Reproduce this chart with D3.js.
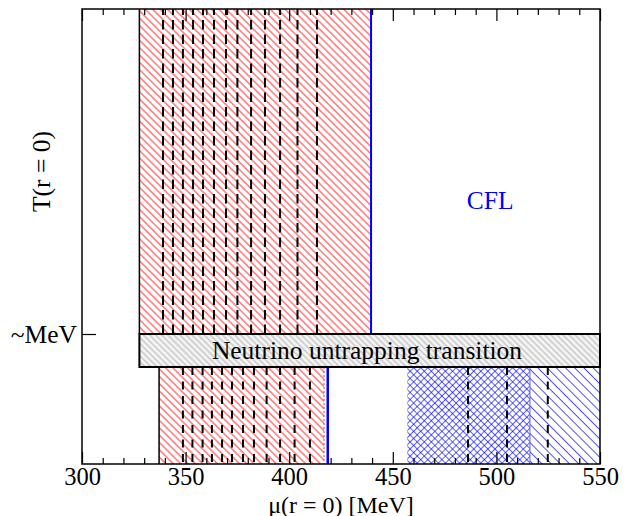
<!DOCTYPE html>
<html>
<head>
<meta charset="utf-8">
<script src="https://cdn.jsdelivr.net/npm/d3@7"></script>
<style>
  html, body { margin: 0; padding: 0; background: #fff; }
  text { font-family: "Liberation Serif", "Times New Roman", serif; }
</style>
</head>
<body>
<svg id="chart" width="633" height="516"></svg>
<script>
// ---- data (chemical potential in MeV) ----
const xTicks = [300, 350, 400, 450, 500, 550];
const xMinorTicks = d3.range(300, 551, 10).filter(v => v % 50 !== 0);
const yTickLabels = ["~MeV"];

// hot region (T above ~MeV): red hatched range and its blue boundary
const hotRange = [327.7, 439.5];
const hotDashes = [339.1, 343.9, 348.7, 353.6, 358.4, 363.7, 369.5, 375.0,
                   381.6, 388.3, 395.6, 404.0, 413.4];

// cold region (T below ~MeV): red hatched range, blue boundary, dashed lines
const coldRedRange = [337.2, 416.8];
const coldBlueEdge = [418.6];
const coldDashes = [348.7, 353.3, 358.2, 362.7, 367.6, 372.4, 377.7, 383.0,
                    389.1, 395.6, 402.6, 410.0];

// cold CFL region: cross-hatched part and single-hatched part
const cflCrossRange = [457.0, 516.2];
const cflSingleRange = [516.2, 550];
const cflDashes = [486.3, 505.1, 524.8];

// temperature axis in relative units: cold / transition band / hot
const tDomain = [0, 1];
const bandRange = [0.2132, 0.2857];

// ---- layout ----
const W = 633, H = 516;
const margin = { left: 82, right: 33, top: 9, bottom: 52 };
const svg = d3.select("#chart");
const x = d3.scaleLinear().domain([300, 550]).range([margin.left, W - margin.right]);
const y = d3.scaleLinear().domain(tDomain).range([H - margin.bottom, margin.top]);

const FONT = 25.5;
const TICK_FONT = 24.5;

// ---- hatch patterns ----
const defs = svg.append("defs");
function hatch(id, color, spacing, width, angle, bg, opacity) {
  const p = defs.append("pattern")
    .attr("id", id)
    .attr("patternUnits", "userSpaceOnUse")
    .attr("width", spacing).attr("height", spacing)
    .attr("patternTransform", `rotate(${angle})`);
  if (bg) p.append("rect").attr("width", spacing).attr("height", spacing).attr("fill", bg);
  p.append("line")
    .attr("x1", spacing / 2).attr("y1", 0)
    .attr("x2", spacing / 2).attr("y2", spacing)
    .attr("stroke", color).attr("stroke-width", width)
    .attr("stroke-opacity", opacity == null ? 1 : opacity);
}
hatch("redBack", "#ff0000", 5.2, 0.9, -45, null, 0.9);
hatch("blueBack", "#0000ff", 5, 0.8, -45, null, 0.8);
hatch("blueFwd", "#0000ff", 5, 0.8, 45, null, 0.8);
hatch("blueWide", "#0000ff", 6.5, 0.9, -45, null, 0.75);
hatch("grayBack", "#c8c8c8", 4.3, 1.6, -45, "#f6f6f6");

const yTop = y(1), yBot = y(0);
const yBandLo = y(bandRange[0]), yBandHi = y(bandRange[1]);

// ---- hot region ----
svg.append("rect")
  .attr("x", x(hotRange[0])).attr("y", yTop)
  .attr("width", x(hotRange[1]) - x(hotRange[0]))
  .attr("height", yBandHi - yTop)
  .attr("fill", "url(#redBack)");

svg.selectAll(".hotDash").data(hotDashes).join("line")
  .attr("class", "hotDash")
  .attr("x1", d => x(d)).attr("x2", d => x(d))
  .attr("y1", yBandHi).attr("y2", yTop)
  .attr("stroke", "#000").attr("stroke-width", 2)
  .attr("stroke-dasharray", "9.5,5");

svg.append("line")
  .attr("x1", x(hotRange[0])).attr("x2", x(hotRange[0]))
  .attr("y1", yTop).attr("y2", yBandHi)
  .attr("stroke", "#000").attr("stroke-width", 1.5);
svg.append("line")
  .attr("x1", x(hotRange[1])).attr("x2", x(hotRange[1]))
  .attr("y1", yTop).attr("y2", yBandHi)
  .attr("stroke", "#0000ff").attr("stroke-width", 2);

// ---- cold region, red part ----
svg.append("rect")
  .attr("x", x(coldRedRange[0])).attr("y", yBandLo)
  .attr("width", x(coldRedRange[1]) - x(coldRedRange[0]))
  .attr("height", yBot - yBandLo)
  .attr("fill", "url(#redBack)");
svg.selectAll(".coldDash").data(coldDashes).join("line")
  .attr("class", "coldDash")
  .attr("x1", d => x(d)).attr("x2", d => x(d))
  .attr("y1", yBandLo).attr("y2", yBot)
  .attr("stroke", "#000").attr("stroke-width", 2)
  .attr("stroke-dasharray", "8,6.5");
svg.append("line")
  .attr("x1", x(coldRedRange[0])).attr("x2", x(coldRedRange[0]))
  .attr("y1", yBandLo).attr("y2", yBot)
  .attr("stroke", "#000").attr("stroke-width", 1.5);
svg.append("line")
  .attr("x1", x(coldRedRange[1])).attr("x2", x(coldRedRange[1]))
  .attr("y1", yBandLo).attr("y2", yBot)
  .attr("stroke", "#ff3030").attr("stroke-width", 1)
  .attr("stroke-dasharray", "2,2");
svg.selectAll(".coldBlue").data(coldBlueEdge).join("line")
  .attr("class", "coldBlue")
  .attr("x1", d => x(d)).attr("x2", d => x(d))
  .attr("y1", yBandLo).attr("y2", yBot)
  .attr("stroke", "#0000ff").attr("stroke-width", 2.5);

// ---- cold region, CFL part ----
svg.append("rect")
  .attr("x", x(cflCrossRange[0])).attr("y", yBandLo)
  .attr("width", x(cflCrossRange[1]) - x(cflCrossRange[0]))
  .attr("height", yBot - yBandLo)
  .attr("fill", "url(#blueBack)");
svg.append("rect")
  .attr("x", x(cflCrossRange[0])).attr("y", yBandLo)
  .attr("width", x(cflCrossRange[1]) - x(cflCrossRange[0]))
  .attr("height", yBot - yBandLo)
  .attr("fill", "url(#blueFwd)");
svg.append("rect")
  .attr("x", x(cflSingleRange[0])).attr("y", yBandLo)
  .attr("width", x(cflSingleRange[1]) - x(cflSingleRange[0]))
  .attr("height", yBot - yBandLo)
  .attr("fill", "url(#blueWide)");
svg.append("line")
  .attr("x1", x(cflCrossRange[1])).attr("x2", x(cflCrossRange[1]))
  .attr("y1", yBandLo).attr("y2", yBot)
  .attr("stroke", "#6060ff").attr("stroke-width", 1);
svg.selectAll(".cflDash").data(cflDashes).join("line")
  .attr("class", "cflDash")
  .attr("x1", d => x(d)).attr("x2", d => x(d))
  .attr("y1", yBandLo).attr("y2", yBot)
  .attr("stroke", "#000").attr("stroke-width", 2)
  .attr("stroke-dasharray", "8,6.5");

// ---- neutrino untrapping band ----
svg.append("rect")
  .attr("x", x(hotRange[0])).attr("y", yBandHi)
  .attr("width", x(550) - x(hotRange[0]))
  .attr("height", yBandLo - yBandHi)
  .attr("fill", "url(#grayBack)")
  .attr("stroke", "#000").attr("stroke-width", 2);
svg.append("text")
  .attr("x", 367)
  .attr("y", (yBandHi + yBandLo) / 2)
  .attr("dy", "0.35em")
  .attr("text-anchor", "middle")
  .attr("font-size", FONT)
  .attr("fill", "#000")
  .text("Neutrino untrapping transition");

// CFL label
svg.append("text")
  .attr("x", x(497)).attr("y", y(0.56))
  .attr("text-anchor", "middle")
  .attr("font-size", FONT)
  .attr("fill", "#0000ff")
  .text("CFL");

// ---- axes ----
const gBottom = svg.append("g").attr("transform", `translate(0,${yBot})`)
  .call(d3.axisBottom(x).tickValues(xTicks).tickSizeInner(-12).tickSizeOuter(0).tickPadding(4));
const gBottomMinor = svg.append("g").attr("transform", `translate(0,${yBot})`)
  .call(d3.axisBottom(x).tickValues(xMinorTicks).tickSizeInner(-6).tickSizeOuter(0).tickFormat(""));
const gTop = svg.append("g").attr("transform", `translate(0,${yTop})`)
  .call(d3.axisTop(x).tickValues(xTicks).tickSizeInner(-12).tickSizeOuter(0).tickFormat(""));
const gTopMinor = svg.append("g").attr("transform", `translate(0,${yTop})`)
  .call(d3.axisTop(x).tickValues(xMinorTicks).tickSizeInner(-6).tickSizeOuter(0).tickFormat(""));
const gLeft = svg.append("g").attr("transform", `translate(${margin.left},0)`)
  .call(d3.axisLeft(d3.scaleOrdinal().domain(yTickLabels).range([yBandHi]))
    .tickSizeInner(-14).tickSizeOuter(0).tickPadding(5));

[gBottom, gBottomMinor, gTop, gTopMinor].forEach(g => {
  g.selectAll("text").attr("font-size", TICK_FONT);
});
gLeft.selectAll("text").attr("font-size", FONT);
[gBottom, gBottomMinor, gTop, gTopMinor, gLeft].forEach(g => {
  g.select(".domain").remove();
  g.selectAll("line").attr("stroke", "#000").attr("stroke-width", 1.2);
  g.selectAll("text")
    .attr("font-family", "Liberation Serif, serif").attr("fill", "#000");
});

// frame
svg.append("rect")
  .attr("x", margin.left).attr("y", yTop)
  .attr("width", x(550) - margin.left).attr("height", yBot - yTop)
  .attr("fill", "none").attr("stroke", "#000").attr("stroke-width", 1.5);

// axis titles
svg.append("text")
  .attr("x", (x(300) + x(550)) / 2).attr("y", 512.5)
  .attr("text-anchor", "middle").attr("font-size", 24)
  .text("μ(r = 0) [MeV]");
svg.append("text")
  .attr("transform", `translate(50,${(yTop + yBandHi) / 2}) rotate(-90)`)
  .attr("text-anchor", "middle").attr("font-size", FONT)
  .text("T(r = 0)");
</script>
</body>
</html>
